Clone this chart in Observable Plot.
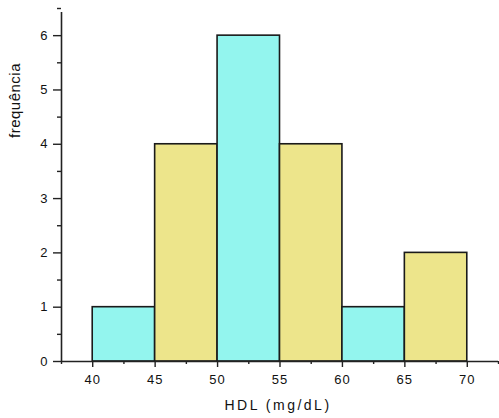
<!DOCTYPE html>
<html>
<head>
<meta charset="utf-8">
<script src="https://cdn.jsdelivr.net/npm/d3@7"></script>
<script src="https://cdn.jsdelivr.net/npm/@observablehq/plot@0.6"></script>
<style>
  html, body { margin: 0; padding: 0; background: #fff; }
  svg { font-family: "Liberation Sans", Arial, sans-serif; }
  g[aria-label="x-axis tick label"] text { letter-spacing: 1px; }
</style>
</head>
<body>
<div id="chart"></div>
<script>
const binStart = [40, 45, 50, 55, 60, 65];
const binEnd   = [45, 50, 55, 60, 65, 70];
const counts   = [1, 4, 6, 4, 1, 2];
const groups   = ["A", "B", "A", "B", "A", "B"];
const xMajorTicks = [40, 45, 50, 55, 60, 65, 70];
const xMinorTicks = [37.5, 42.5, 47.5, 52.5, 57.5, 62.5, 67.5, 72.5];
const yMajorTicks = [0, 1, 2, 3, 4, 5, 6];
const yMinorTicks = [0.5, 1.5, 2.5, 3.5, 4.5, 5.5, 6.5];
const xTitle = "HDL (mg/dL)";
const yTitle = "frequência";

const bins = binStart.map((s, i) => ({x1: s, x2: binEnd[i], y: counts[i], g: groups[i]}));

const chart = Plot.plot({
  width: 499,
  height: 418,
  marginLeft: 61,
  marginRight: 1,
  marginTop: 8,
  marginBottom: 57,
  x: {domain: [37.5, 72.5]},
  y: {domain: [0, 6.5]},
  color: {domain: ["A", "B"], range: ["#93f5ee", "#ede58b"]},
  marks: [
    Plot.rectY(bins, {x1: "x1", x2: "x2", y: "y", fill: "g", stroke: "#1a1a1a", strokeWidth: 1.6}),
    Plot.ruleY([0], {stroke: "#222", strokeWidth: 1.6}),
    Plot.ruleX([37.5], {y1: 0, y2: 6.5, stroke: "#222", strokeWidth: 1.6, insetBottom: -4}),
    Plot.axisX({ticks: xMajorTicks, tickSize: 6, tickPadding: 7, fontSize: 13, stroke: "#222", strokeWidth: 1.4, label: null, color: "#111", tickFormat: d => String(d)}),
    Plot.axisX({ticks: xMinorTicks, tickSize: 3, tickFormat: () => "", stroke: "#222", strokeWidth: 1.4, label: null}),
    Plot.axisY({ticks: yMajorTicks, tickSize: 8, tickPadding: 6, fontSize: 13, stroke: "#222", strokeWidth: 1.4, label: null, color: "#111", tickFormat: d => String(d)}),
    Plot.axisY({ticks: yMinorTicks, tickSize: 4, tickFormat: () => "", stroke: "#222", strokeWidth: 1.4, label: null}),
    Plot.text([xTitle], {frameAnchor: "bottom", dy: 44, text: d => d, fontSize: 14, fill: "#111", lineAnchor: "middle", textAnchor: "middle", dx: -2}),
    Plot.text([yTitle], {frameAnchor: "top-left", dx: -46, dy: 92, rotate: -90, text: d => d, fontSize: 15, fill: "#111", lineAnchor: "middle", textAnchor: "middle"})
  ]
});
chart.querySelectorAll("text").forEach(t => {
  if (t.textContent === xTitle) t.setAttribute("letter-spacing", "2.5px");
  if (t.textContent === yTitle) t.setAttribute("letter-spacing", "0.5px");
});
document.getElementById("chart").appendChild(chart);
</script>
</body>
</html>
